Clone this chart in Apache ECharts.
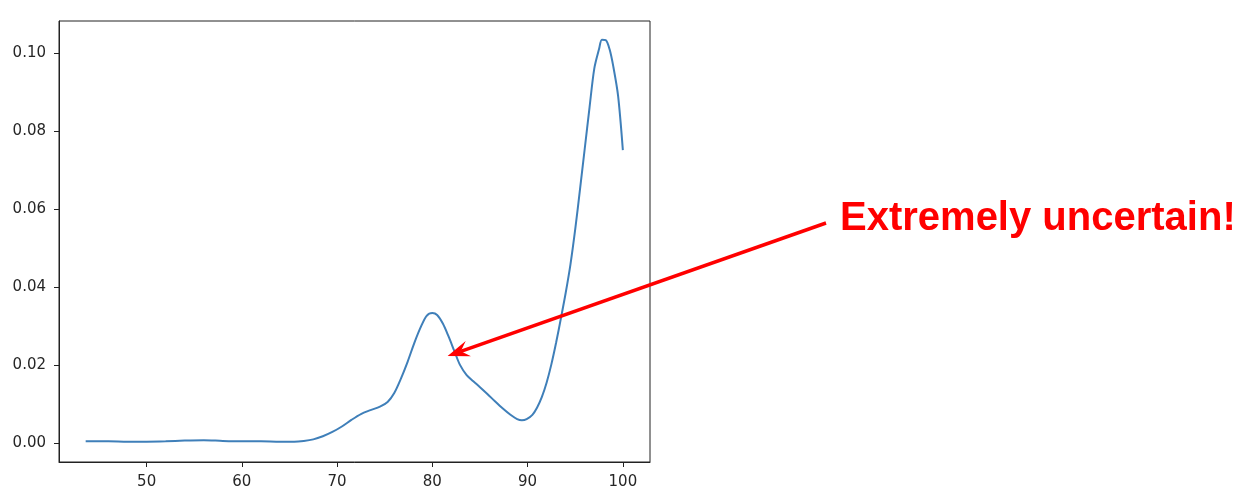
<!DOCTYPE html>
<html>
<head>
<meta charset="utf-8">
<script src="https://cdn.jsdelivr.net/npm/echarts@6/dist/echarts.min.js"></script>
<style>
html,body{margin:0;padding:0;background:#fff;}
#c{width:1257px;height:503px;}
</style>
</head>
<body>
<div id="c"></div>
<script>
const xValues = [43.6,46,48,50,52,54,56,58,60,62,64,65.5,66.5,67.5,68.5,69.5,70.5,71.5,72.5,73.5,74.5,75.3,76.0,76.7,77.4,78.1,78.8,79.4,80.0,80.5,81.1,81.7,82.3,82.9,83.6,84.3,85.0,85.8,86.6,87.4,88.2,88.9,89.4,89.9,90.5,91.0,91.5,92.0,92.5,93.0,93.5,94.0,94.5,95.0,95.5,96.0,96.5,97.0,97.5,97.8,98.2,98.6,99.0,99.5,100.0];
const yValues = [0.0004,0.0004,0.0003,0.0003,0.0004,0.0006,0.0007,0.0005,0.0004,0.0004,0.0003,0.0003,0.0005,0.0009,0.0017,0.0028,0.0042,0.0059,0.0074,0.0084,0.0093,0.0105,0.0128,0.0165,0.0208,0.0256,0.0298,0.0326,0.0333,0.0328,0.0306,0.0273,0.0236,0.0200,0.0174,0.0158,0.0143,0.0125,0.0106,0.0088,0.0072,0.0061,0.0058,0.0061,0.0072,0.0091,0.0118,0.0155,0.0202,0.0258,0.0320,0.0385,0.0458,0.0548,0.0650,0.0755,0.0860,0.0960,0.1010,0.1034,0.1033,0.1010,0.0965,0.0890,0.0751];
const xTicks = [50,60,70,80,90,100];
const yTicks = [0.00,0.02,0.04,0.06,0.08,0.10];
const annotationText = 'Extremely uncertain!';
const arrowTip = [81.6, 0.0223];

const chart = echarts.init(document.getElementById('c'), null, {renderer:'canvas'});
const axisCommon = {
  axisLine:{show:true, onZero:false, lineStyle:{color:'#222', width:1}},
  axisTick:{show:true, inside:false, length:5, lineStyle:{color:'#222', width:1}},
  splitLine:{show:false},
};
chart.setOption({
  animation:false,
  backgroundColor:'#fff',
  grid:{left:59, right:607, top:21, bottom:41, show:true, borderColor:'#222', borderWidth:1, backgroundColor:'transparent'},
  xAxis:Object.assign({type:'value', min:40.8, max:102.85,
    axisLabel:{show:true, customValues:xTicks, margin:13, color:'#262626', fontFamily:'DejaVu Sans', fontSize:15},
  }, axisCommon, {axisTick:Object.assign({}, axisCommon.axisTick, {customValues:xTicks})}),
  yAxis:Object.assign({type:'value', min:-0.0049, max:0.1082,
    axisLabel:{show:true, customValues:yTicks, margin:13, color:'#262626', fontFamily:'DejaVu Sans', fontSize:15, formatter:v=>Number(v).toFixed(2)},
  }, axisCommon, {axisTick:Object.assign({}, axisCommon.axisTick, {customValues:yTicks})}),
  series:[{
    type:'line',
    data:xValues.map((x,i)=>[x,yValues[i]]),
    showSymbol:false,
    smooth:0.3,
    lineStyle:{color:'#3f7fb9', width:2},
    z:2
  }]
});

// annotation arrow (tip in data coords, tail/text in figure pixels)
const tip = chart.convertToPixel({gridIndex:0}, arrowTip);
const tail = [826, 223];
const dx = tail[0]-tip[0], dy = tail[1]-tip[1];
const L = Math.sqrt(dx*dx+dy*dy);
const ux = dx/L, uy = dy/L, px = -uy, py = ux;
const headLen = 22, notch = 14, halfW = 8;
const headPts = [
  [tip[0], tip[1]],
  [tip[0]+ux*headLen+px*halfW, tip[1]+uy*headLen+py*halfW],
  [tip[0]+ux*notch, tip[1]+uy*notch],
  [tip[0]+ux*headLen-px*halfW, tip[1]+uy*headLen-py*halfW]
];
chart.setOption({
  graphic:[
    {type:'line', z:100, shape:{x1:tail[0], y1:tail[1], x2:tip[0]+ux*notch, y2:tip[1]+uy*notch}, style:{stroke:'#ff0000', lineWidth:3.5}},
    {type:'polygon', z:101, shape:{points:headPts}, style:{fill:'#ff0000'}},
    {type:'text', z:102, left:840, top:199, style:{text:annotationText, fill:'#ff0000', font:'bold 40px "Liberation Sans", Arial, sans-serif'}}
  ]
});
</script>
</body>
</html>
